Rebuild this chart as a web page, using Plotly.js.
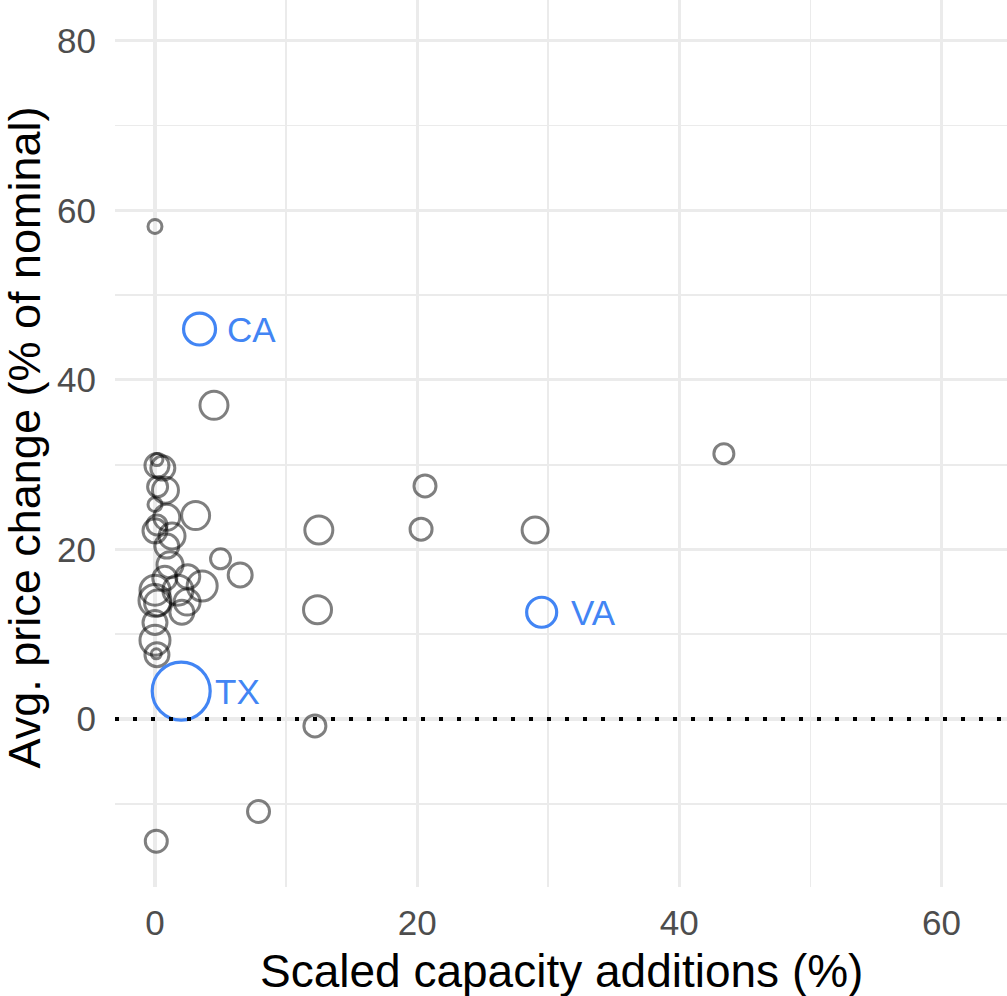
<!DOCTYPE html>
<html>
<head>
<meta charset="utf-8">
<script src="https://cdn.plot.ly/plotly-3.0.1.min.js"></script>
<style>
  html, body { margin: 0; padding: 0; background: #ffffff; }
  #chart { width: 1007px; height: 996px; }
</style>
</head>
<body>
<div id="chart"></div>
<script>
// Other states: scaled capacity additions (%), average price change (% of nominal), relative load weight
const otherCapacity = [0.0, 4.5, 43.4, 20.6, 20.3, 29.0, 12.5, 12.4, 12.2, 7.9, 0.1, 5.0, 6.5, 3.1,
  0.15, 0.15, 0.6, 0.2, 0.8, 0.0, 0.9, 0.15, 0.0, 1.3, 0.9, 1.15, 2.5, 0.75, 3.6, 0.0, 1.75,
  2.45, 0.2, 2.05, 0.0, 0.0, 0.0, 0.15, 0.1];
const otherPrice = [58.1, 37.0, 31.3, 27.5, 22.4, 22.3, 22.3, 12.9, -0.8, -10.9, -14.4, 18.9, 17.0, 24.0,
  30.6, 29.9, 29.6, 27.4, 27.0, 25.3, 23.8, 22.9, 22.2, 21.6, 20.4, 18.2, 16.8, 16.6, 15.7, 15.2, 15.2,
  13.8, 13.7, 12.6, 14.0, 11.4, 9.3, 7.6, 7.7];
const otherWeight = [5.8, 23.3, 11.9, 14.4, 14.4, 20.1, 23.3, 23.3, 14.4, 14.4, 14.4, 11.9, 17.1, 23.3,
  4.3, 17.1, 17.1, 11.9, 20.1, 5.8, 20.1, 11.9, 17.1, 20.1, 17.1, 20.1, 17.1, 17.1, 26.8, 26.8, 26.8,
  20.1, 20.1, 17.1, 30.4, 17.1, 26.8, 17.1, 3.0];

// Highlighted states
const keyStates = ["CA", "TX", "VA"];
const keyCapacity = [3.4, 2.0, 29.5];
const keyPrice = [46.0, 3.3, 12.6];
const keyWeight = [30.4, 100, 26.8];
const keyLabelShift = [25, 32, 27];

const xTicks = [0, 20, 40, 60];
const yTicks = [0, 20, 40, 60, 80];

const SIZEREF = 50 / 841;
const BLUE = "#4285f4";
const FONT = "Liberation Sans, Arial, sans-serif";

const traces = [
  {
    type: "scatter", mode: "markers",
    x: otherCapacity, y: otherPrice,
    marker: {
      symbol: "circle", size: otherWeight, sizemode: "area", sizeref: SIZEREF,
      opacity: 1, color: "rgba(0,0,0,0)",
      line: { color: "rgba(0,0,0,0.5)", width: 3 }
    },
    hoverinfo: "skip", showlegend: false
  },
  {
    type: "scatter", mode: "markers",
    x: keyCapacity, y: keyPrice, text: keyStates,
    marker: {
      symbol: "circle", size: keyWeight, sizemode: "area", sizeref: SIZEREF,
      opacity: 1, color: "rgba(0,0,0,0)",
      line: { color: BLUE, width: 3.2 }
    },
    hoverinfo: "skip", showlegend: false
  }
];

const annotations = keyStates.map((s, i) => ({
  x: keyCapacity[i], y: keyPrice[i], xref: "x", yref: "y",
  text: s, showarrow: false, xanchor: "left", yanchor: "middle",
  xshift: keyLabelShift[i], font: { family: FONT, size: 35, color: BLUE }
}));

annotations.push({
  x: 0.5, y: 0, xref: "paper", yref: "paper",
  text: "Scaled capacity additions (%)", showarrow: false,
  xanchor: "center", yanchor: "middle", yshift: -84,
  font: { family: FONT, size: 46, color: "#000000" }
});
annotations.push({
  x: 0, y: 0.5, xref: "paper", yref: "paper",
  text: "Avg. price change (% of nominal)", showarrow: false, textangle: -90,
  xanchor: "center", yanchor: "middle", xshift: -91, yshift: 6,
  font: { family: FONT, size: 45, color: "#000000" }
});

const gridStyle = { gridcolor: "#ebebeb", gridwidth: 3.2 };

const layout = {
  width: 1007, height: 996,
  margin: { l: 115, r: 0, t: 0, b: 109, pad: 0 },
  paper_bgcolor: "#ffffff", plot_bgcolor: "#ffffff",
  font: { family: FONT },
  showlegend: false,
  xaxis: {
    range: [-3.05, 65.0], tickvals: xTicks, ticktext: xTicks.map(String),
    ...gridStyle, zeroline: false, showline: false, ticks: "",
    minor: { dtick: 10, tick0: 10, showgrid: true, gridcolor: "#ebebeb", gridwidth: 1.6, ticks: "" },
    tickfont: { family: FONT, size: 35, color: "#4d4d4d" },
    ticklabelstandoff: 12, automargin: false, fixedrange: true
  },
  yaxis: {
    range: [-19.8, 84.8], tickvals: yTicks, ticktext: yTicks.map(String),
    ...gridStyle, zeroline: false, showline: false, ticks: "",
    minor: { dtick: 20, tick0: -10, showgrid: true, gridcolor: "#ebebeb", gridwidth: 1.6, ticks: "" },
    tickfont: { family: FONT, size: 35, color: "#4d4d4d" },
    ticklabelstandoff: 18, automargin: false, fixedrange: true
  },
  shapes: [{
    type: "line", xref: "paper", yref: "y", x0: 0, x1: 1, y0: 0, y1: 0,
    line: { color: "#000000", width: 4, dash: "4px,14px" }, layer: "above"
  }],
  annotations: annotations
};

Plotly.newPlot("chart", traces, layout, { displayModeBar: false, staticPlot: true });
</script>
</body>
</html>
